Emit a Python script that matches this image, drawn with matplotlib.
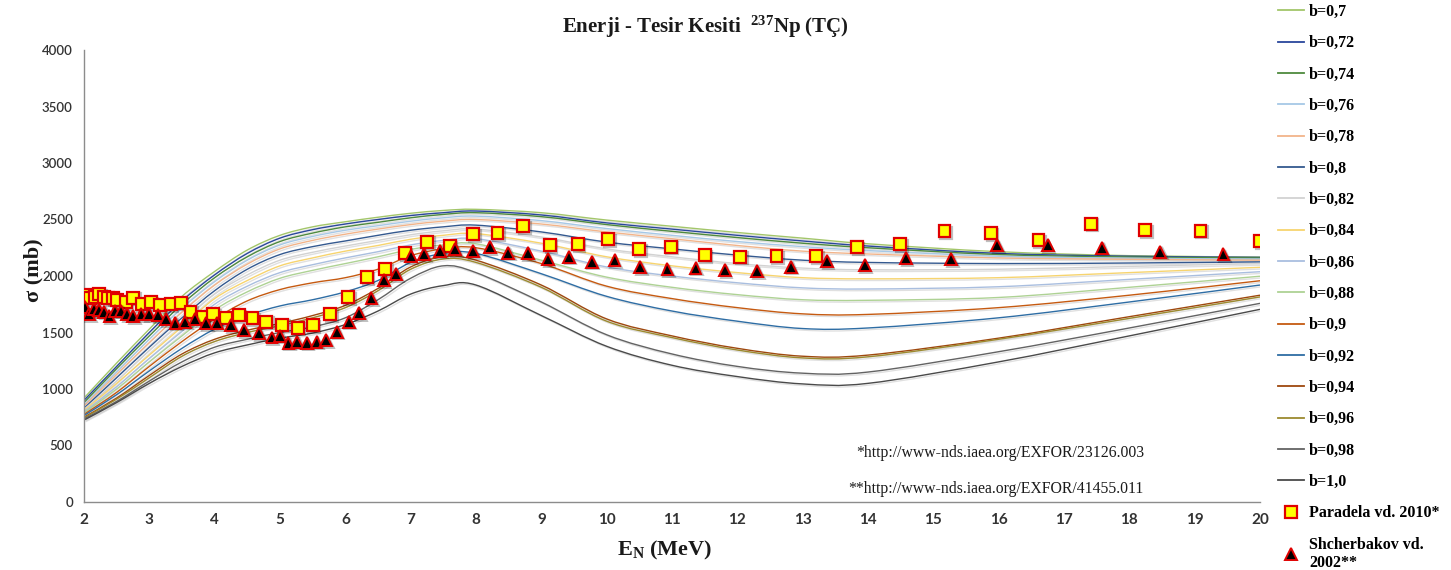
import numpy as np
import matplotlib
matplotlib.use("Agg")
import matplotlib.pyplot as plt
import matplotlib.patheffects as pe
from matplotlib.lines import Line2D
from matplotlib.path import Path
from matplotlib.patches import PathPatch

plt.rcParams['font.family'] = ['Liberation Serif', 'DejaVu Serif']
plt.rcParams['mathtext.fontset'] = 'custom'
plt.rcParams['mathtext.rm'] = 'Liberation Serif'
plt.rcParams['mathtext.bf'] = 'Liberation Serif:bold'
plt.rcParams['mathtext.default'] = 'bf'

# --- calculated curves, sigma in mb ---
energy = [2, 2.5, 3, 3.5, 4, 4.5, 5, 5.5, 6, 6.5, 7, 7.5, 8, 9, 10, 11, 12, 13, 14, 16, 18, 20]

b_labels = ["b=0,7", "b=0,72", "b=0,74", "b=0,76", "b=0,78", "b=0,8", "b=0,82", "b=0,84",
            "b=0,86", "b=0,88", "b=0,9", "b=0,92", "b=0,94", "b=0,96", "b=0,98", "b=1,0"]

b_colors = ["#a3c66a", "#2a479c", "#4e8a3e", "#a6c8e6", "#f2b48a", "#34598f", "#d2d2d2", "#f7d46e",
            "#a9bedf", "#aed294", "#c55a11", "#2e6da4", "#9e480e", "#9c8a2f", "#636363", "#4a4a4a"]

b070 = [920, 1230, 1530, 1820, 2040, 2230, 2360, 2435, 2480, 2520, 2555, 2580, 2590, 2560, 2495, 2440, 2385, 2335, 2285, 2215, 2180, 2168]
b072 = [900, 1200, 1500, 1780, 2010, 2200, 2335, 2410, 2460, 2500, 2535, 2560, 2575, 2540, 2470, 2415, 2360, 2310, 2265, 2200, 2175, 2165]
b074 = [880, 1180, 1470, 1750, 1985, 2170, 2305, 2380, 2435, 2475, 2515, 2545, 2560, 2525, 2455, 2395, 2340, 2290, 2250, 2190, 2168, 2160]
b076 = [860, 1150, 1440, 1715, 1950, 2140, 2275, 2350, 2405, 2445, 2485, 2515, 2530, 2490, 2420, 2360, 2305, 2260, 2225, 2175, 2158, 2150]
b078 = [850, 1130, 1410, 1680, 1920, 2105, 2240, 2315, 2370, 2415, 2455, 2485, 2500, 2460, 2390, 2330, 2270, 2220, 2195, 2160, 2148, 2140]
b080 = [830, 1100, 1370, 1630, 1870, 2060, 2190, 2260, 2310, 2360, 2405, 2435, 2450, 2390, 2300, 2240, 2185, 2140, 2120, 2110, 2115, 2125]
b082 = [820, 1070, 1340, 1590, 1840, 2010, 2140, 2210, 2265, 2315, 2365, 2400, 2415, 2345, 2240, 2170, 2110, 2070, 2055, 2060, 2085, 2110]
b084 = [810, 1050, 1300, 1550, 1800, 1960, 2090, 2160, 2220, 2270, 2325, 2360, 2375, 2290, 2170, 2090, 2030, 1985, 1975, 1985, 2030, 2077]
b086 = [800, 1020, 1270, 1510, 1750, 1910, 2030, 2100, 2160, 2215, 2275, 2315, 2330, 2220, 2080, 2000, 1940, 1895, 1885, 1905, 1970, 2038]
b088 = [790, 1000, 1240, 1470, 1700, 1860, 1980, 2050, 2110, 2170, 2235, 2275, 2285, 2140, 1990, 1900, 1835, 1790, 1785, 1810, 1900, 1998]
b090 = [775, 970, 1200, 1420, 1620, 1780, 1880, 1940, 1985, 2060, 2180, 2240, 2250, 2110, 1910, 1800, 1720, 1665, 1660, 1720, 1830, 1958]
b092 = [765, 950, 1160, 1360, 1530, 1650, 1735, 1790, 1860, 1960, 2120, 2200, 2200, 2020, 1820, 1690, 1600, 1535, 1540, 1630, 1770, 1920]
b094 = [750, 920, 1120, 1310, 1440, 1520, 1580, 1650, 1740, 1890, 2080, 2170, 2140, 1920, 1620, 1470, 1360, 1290, 1300, 1450, 1640, 1830]
b096 = [745, 910, 1100, 1290, 1420, 1500, 1560, 1630, 1720, 1870, 2060, 2150, 2120, 1900, 1600, 1455, 1345, 1275, 1285, 1440, 1625, 1815]
b098 = [735, 890, 1070, 1240, 1370, 1440, 1500, 1550, 1630, 1790, 1980, 2090, 2030, 1770, 1480, 1310, 1200, 1140, 1150, 1330, 1540, 1758]
b100 = [725, 880, 1050, 1200, 1320, 1390, 1450, 1495, 1570, 1690, 1840, 1915, 1920, 1650, 1378, 1210, 1110, 1045, 1050, 1240, 1470, 1705]

curves = [b070, b072, b074, b076, b078, b080, b082, b084,
          b086, b088, b090, b092, b094, b096, b098, b100]

# --- experimental data ---
paradela_e = [2.04, 2.09, 2.17, 2.23, 2.30, 2.37, 2.45, 2.51, 2.64, 2.75, 2.88, 3.02, 3.16, 3.33, 3.48,
              3.63, 3.82, 3.98, 4.17, 4.37, 4.58, 4.79, 5.03, 5.27, 5.50, 5.77, 6.04, 6.33, 6.61,
              6.91, 7.25, 7.60, 7.96, 8.33, 8.72, 9.13, 9.56, 10.02, 10.50, 10.98, 11.50, 12.04,
              12.60, 13.21, 13.83, 14.49, 15.17, 15.88, 16.61, 17.41, 18.24, 19.09, 20.0]
paradela_s = [1832, 1803, 1817, 1841, 1817, 1803, 1803, 1788, 1767, 1808, 1750, 1767, 1743, 1750, 1764,
              1684, 1640, 1661, 1626, 1655, 1626, 1596, 1569, 1543, 1566, 1664, 1811, 1988, 2062,
              2200, 2304, 2265, 2372, 2378, 2442, 2274, 2280, 2327, 2239, 2259, 2186, 2171,
              2177, 2177, 2257, 2280, 2398, 2378, 2319, 2463, 2407, 2401, 2310]

shcher_e = [2.02, 2.08, 2.15, 2.23, 2.31, 2.39, 2.47, 2.57, 2.66, 2.75, 2.88, 3.00, 3.13, 3.26, 3.40,
            3.55, 3.70, 3.87, 4.04, 4.25, 4.45, 4.68, 4.87, 5.00, 5.13, 5.26, 5.41, 5.56, 5.71,
            5.87, 6.05, 6.21, 6.40, 6.59, 6.78, 7.00, 7.21, 7.45, 7.68, 7.96, 8.21, 8.49, 8.79,
            9.10, 9.42, 9.77, 10.12, 10.51, 10.93, 11.36, 11.81, 12.30, 12.82, 13.37, 13.95,
            14.58, 15.27, 15.98, 16.75, 17.58, 18.47, 19.44]
shcher_s = [1723, 1664, 1705, 1699, 1684, 1646, 1693, 1693, 1664, 1646, 1664, 1664, 1655, 1619, 1587,
            1596, 1617, 1582, 1582, 1566, 1522, 1493, 1455, 1472, 1410, 1419, 1410, 1419, 1434,
            1507, 1596, 1670, 1803, 1965, 2018, 2177, 2192, 2224, 2236, 2221, 2254, 2207, 2201,
            2148, 2171, 2127, 2142, 2077, 2062, 2074, 2053, 2044, 2083, 2133, 2097,
            2156, 2150, 2274, 2274, 2251, 2215, 2192]


def smooth_path(x, y):
    # bezier path through the points (like a "smoothed line" series)
    p = np.column_stack([x, y]).astype(float)
    ext = np.vstack([p[0], p, p[-1]])
    verts = [p[0]]
    codes = [Path.MOVETO]
    for i in range(len(p) - 1):
        a, b, c, d = ext[i], ext[i + 1], ext[i + 2], ext[i + 3]
        verts += [b + (c - a) / 6, c - (d - b) / 6, c]
        codes += [Path.CURVE4] * 3
    return Path(verts, codes)


fig = plt.figure(figsize=(14.51, 5.70), dpi=100)
ax = fig.add_axes([84 / 1451, 1 - 502 / 570, (1260 - 84) / 1451, (502 - 50) / 570])

shadow = [pe.SimpleLineShadow(offset=(1.2, -1.2), alpha=0.12, shadow_color='black'), pe.Normal()]

handles = []
for vals, col, lab in zip(curves, b_colors, b_labels):
    patch = PathPatch(smooth_path(energy, vals), fill=False, edgecolor=col, lw=1.0, path_effects=shadow)
    ax.add_patch(patch)
    handles.append(Line2D([], [], color=col, lw=1.3))

mk_shadow = [pe.SimpleLineShadow(offset=(1.2, -1.2), alpha=0.25), pe.Normal()]
ax.plot(paradela_e, paradela_s, ls='none', marker='s', ms=8.5, mfc='#ffff00', mec='#e00000', mew=1.6,
        zorder=5, path_effects=mk_shadow)
ax.plot(shcher_e, shcher_s, ls='none', marker='^', ms=8.5, mfc='#000000', mec='#e00000', mew=1.4,
        zorder=6, path_effects=mk_shadow)

handles.append(Line2D([], [], ls='none', marker='s', ms=8.5, mfc='#ffff00', mec='#e00000', mew=1.6))
handles.append(Line2D([], [], ls='none', marker='^', ms=8.5, mfc='#000000', mec='#e00000', mew=1.4))
labels = b_labels + ["Paradela vd. 2010*", "Shcherbakov vd.\n2002**"]

ax.set_xlim(2, 20)
ax.set_ylim(0, 4000)
ax.set_xticks(range(2, 21))
ax.set_yticks(range(0, 4001, 500))
for s in ['top', 'right']:
    ax.spines[s].set_visible(False)
for s in ['left', 'bottom']:
    ax.spines[s].set_color('#8c8c8c')
    ax.spines[s].set_linewidth(1.0)
ax.tick_params(axis='both', length=0, pad=8)
for t in ax.get_yticklabels():
    t.set_fontfamily('Lato')
    t.set_fontweight('semibold')
    t.set_fontsize(9.5)
    t.set_color('#333333')
for t in ax.get_xticklabels():
    t.set_fontfamily('Lato')
    t.set_fontweight('bold')
    t.set_fontsize(11)
    t.set_color('#333333')

fig.text(705 / 1451, 1 - 27 / 570, r"Enerji - Tesir Kesiti  $^{237}$Np (TÇ)", ha='center', va='center',
         fontsize=15, fontweight='bold', color='#1a1a1a')
fig.text(33 / 1451, 1 - 270 / 570, "σ (mb)", rotation=90, ha='center', va='center',
         fontsize=16, fontweight='bold', color='#1a1a1a')
fig.text(665 / 1451, 1 - 550 / 570, r"E$_{N}$ (MeV)", ha='center', va='center',
         fontsize=16, fontweight='bold', color='#1a1a1a')

fig.text(1000 / 1451, 1 - 453 / 570, "*http://www-nds.iaea.org/EXFOR/23126.003",
         ha='center', va='center', fontsize=11.3, color='#1a1a1a')
fig.text(996 / 1451, 1 - 489 / 570, "**http://www-nds.iaea.org/EXFOR/41455.011",
         ha='center', va='center', fontsize=11.3, color='#1a1a1a')

fig.legend(handles, labels, loc='upper left', bbox_to_anchor=(1278 / 1451, 0.993),
           frameon=False, prop={'family': 'Liberation Serif', 'weight': 'bold', 'size': 11.5},
           labelspacing=0.96, handlelength=1.6, handletextpad=0.35, borderpad=0, borderaxespad=0)

fig.savefig("out.png", dpi=100, facecolor='white')
